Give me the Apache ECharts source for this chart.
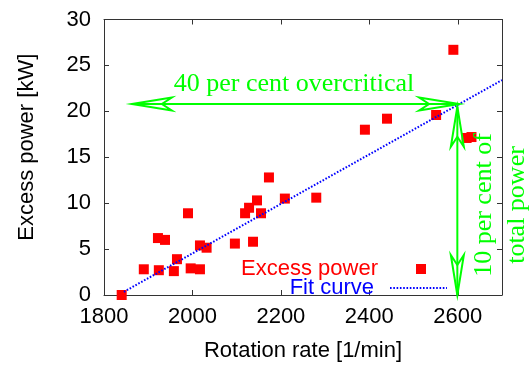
<!DOCTYPE html>
<html>
<head>
<meta charset="utf-8">
<script src="https://cdn.jsdelivr.net/npm/echarts@6/dist/echarts.min.js"></script>
<style>
  html, body { margin: 0; padding: 0; background: #fff; }
  #chart { width: 532px; height: 367px; }
</style>
</head>
<body>
<div id="chart"></div>
<script>
// measured points: rotation rate [1/min] vs excess power [kW]
const rateValues = [1840, 1890, 1924, 1922, 1938, 1958, 1965, 1990, 1996, 2017, 2017, 2032,
  2096, 2137, 2119, 2128, 2155, 2146, 2173, 2209, 2280, 2390, 2440, 2551, 2590, 2620, 2631]
const powerValues = [0, 2.8, 2.7, 6.2, 6.0, 2.6, 3.9, 8.9, 2.9, 2.8, 5.4, 5.15,
  5.6, 5.8, 8.9, 9.5, 8.9, 10.3, 12.8, 10.5, 10.6, 18.0, 19.2, 19.6, 26.7, 17.1, 17.2]

// linear fit, end points
const fitX = [1845, 2700]
const fitY = [0.35, 23.4]

// double arrows [x1, y1, x2, y2]
const arrows = [
  [1863, 20.8, 2603, 20.8],
  [2599, 20.5, 2599, 0],
]

const xTicks = { min: 1800, max: 2700, interval: 200 }
const yTicks = { min: 0, max: 30, interval: 5 }

const GREEN = '#00ff00'
const SANS = 'Liberation Sans, Arial, sans-serif'
const SERIF = 'Liberation Serif, Times New Roman, serif'
const AXIS_COLOR = '#333'

const chart = echarts.init(document.getElementById('chart'), null, { renderer: 'canvas' })

function arrowHead(tip, dir, len, notch, half) {
  const nx = -dir[1], ny = dir[0]
  return {
    type: 'polygon',
    shape: {
      points: [
        tip,
        [tip[0] - dir[0] * len + nx * half, tip[1] - dir[1] * len + ny * half],
        [tip[0] - dir[0] * notch, tip[1] - dir[1] * notch],
        [tip[0] - dir[0] * len - nx * half, tip[1] - dir[1] * len - ny * half],
      ],
    },
    style: { fill: 'none', stroke: GREEN, lineWidth: 2 },
  }
}

const axisCommon = {
  type: 'value',
  axisLine: { show: true, onZero: false, lineStyle: { color: AXIS_COLOR, width: 1 } },
  axisTick: { show: true, inside: true, length: 5, lineStyle: { color: AXIS_COLOR } },
  splitLine: { show: false },
}

chart.setOption({
  animation: false,
  backgroundColor: '#fff',
  grid: { left: 104, right: 30, top: 19.5, bottom: 66 },
  xAxis: [
    {
      ...axisCommon, ...xTicks, position: 'bottom',
      name: 'Rotation rate [1/min]', nameLocation: 'middle', nameGap: 45,
      nameTextStyle: { fontSize: 22, fontFamily: SANS, color: '#000' },
      axisLabel: { fontSize: 22, fontFamily: SANS, color: '#000', margin: 11, showMaxLabel: false, formatter: (v) => String(v) },
    },
    { ...axisCommon, ...xTicks, position: 'top', axisLabel: { show: false } },
  ],
  yAxis: [
    {
      ...axisCommon, ...yTicks, position: 'left',
      name: 'Excess power [kW]', nameLocation: 'middle', nameGap: 66,
      nameTextStyle: { fontSize: 22, fontFamily: SANS, color: '#000', padding: [0, 0, 0, 20] },
      axisLabel: { fontSize: 22, fontFamily: SANS, color: '#000', margin: 13 },
    },
    { ...axisCommon, ...yTicks, position: 'right', axisLabel: { show: false } },
  ],
  legend: [
    {
      data: [{ name: 'Excess power', icon: 'rect', textStyle: { color: '#ff0000' } }],
      selectedMode: false, align: 'right', right: 106, top: 258, padding: 0,
      itemWidth: 10, itemHeight: 10,
      textStyle: { fontSize: 22, fontFamily: SANS, padding: [0, 33, 0, 0] },
    },
    {
      data: [{ name: 'Fit curve', textStyle: { color: '#0000ff' }, itemStyle: { color: 'transparent', borderWidth: 0, opacity: 0 } }],
      selectedMode: false, align: 'right', right: 84, top: 277, padding: 0,
      itemWidth: 57, itemHeight: 14,
      textStyle: { fontSize: 22, fontFamily: SANS, padding: [0, 11, 0, 0] },
    },
  ],
  series: [
    {
      name: 'Excess power',
      type: 'scatter',
      symbol: 'rect',
      symbolSize: 10,
      itemStyle: { color: '#ff0000', opacity: 1 },
      data: rateValues.map((x, i) => [x, powerValues[i]]),
      z: 3,
    },
    {
      name: 'Fit curve',
      type: 'line',
      symbol: 'none',
      lineStyle: { color: '#0000ff', width: 2, type: [1.6, 1.7] },
      itemStyle: { color: '#0000ff' },
      data: fitX.map((x, i) => [x, fitY[i]]),
      z: 4,
    },
    {
      type: 'custom',
      clip: false,
      silent: true,
      z: 5,
      data: arrows,
      renderItem: (params, api) => {
        const a = api.coord([api.value(0), api.value(1)])
        const b = api.coord([api.value(2), api.value(3)])
        const dx = b[0] - a[0], dy = b[1] - a[1]
        const d = Math.hypot(dx, dy)
        const u = [dx / d, dy / d]
        return {
          type: 'group',
          children: [
            { type: 'line', shape: { x1: a[0], y1: a[1], x2: b[0], y2: b[1] }, style: { stroke: GREEN, lineWidth: 2 } },
            arrowHead(b, u, 40, 30, 6.5),
            arrowHead(a, [-u[0], -u[1]], 40, 30, 6.5),
          ],
        }
      },
    },
  ],
  graphic: [
    {
      type: 'text', x: 294, y: 84, z: 10,
      style: { text: '40 per cent overcritical', fill: GREEN, fontSize: 26, fontFamily: SERIF, align: 'center', verticalAlign: 'middle' },
    },
    {
      type: 'text', x: 500.5, y: 205, rotation: Math.PI / 2, z: 10,
      style: { text: '10 per cent of\ntotal power', fill: GREEN, fontSize: 26, lineHeight: 33, fontFamily: SERIF, align: 'center', verticalAlign: 'middle' },
    },
  ],
})
</script>
</body>
</html>
